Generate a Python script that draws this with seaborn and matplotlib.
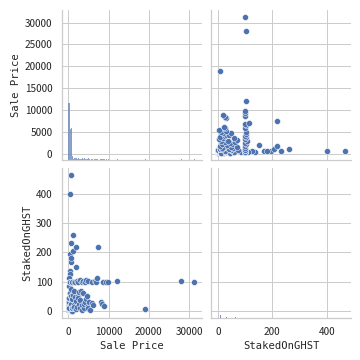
import matplotlib
matplotlib.use("Agg")
import matplotlib.pyplot as plt
import pandas as pd
import seaborn as sns

# listings; n_listings = how many rows sit on that spot
sale_price = [
    120, 380, 620, 870,
    100, 200, 300, 150, 300, 450, 400, 500, 300, 500, 550, 450, 600, 600, 650, 700,
    800, 650, 750, 900, 950, 1000, 1100, 1100, 1200, 1150,
    1300, 1500, 1500, 1400, 1600, 1700, 1800, 1800, 1900, 2000, 2100, 2200, 2300, 2400,
    2500, 2600, 2700, 2800, 2900, 3000, 3200, 3300, 3300, 3500, 3600, 3700, 3900, 4000,
    4100, 4200, 4300, 4500, 4700, 4800, 5000, 5000, 5200, 5450, 5800, 5800, 6100, 6600,
    6800, 7100, 7400, 8200, 8300, 8600, 8800, 9400, 9800, 12000, 19000, 28000, 31300,
]
staked_ghst = [
    0, 0, 0, 0,
    20, 12, 30, 45, 85, 60, 135, 125, 112, 194, 401, 100, 465, 233, 168, 180,
    75, 25, 50, 100, 10, 40, 260, 205, 55, 15,
    100, 70, 22, 15, 48, 100, 217, 8, 152, 35, 104, 15, 52, 45,
    100, 25, 65, 12, 106, 38, 70, 100, 5, 20, 60, 103, 10, 25,
    100, 32, 40, 105, 50, 18, 102, 12, 30, 4, 100, 28, 22, 104,
    100, 114, 218, 30, 25, 100, 18, 100, 99, 104, 8, 103, 100,
]
n_listings = [
    80, 80, 45, 45,
    6, 8, 6, 6, 1, 6, 1, 1, 1, 1, 1, 4, 1, 1, 1, 1,
    1, 3, 3, 3, 4, 3, 1, 1, 1, 1,
    1, 1, 1, 1, 1, 1, 1, 1, 1, 1, 1, 1, 1, 1,
    1, 1, 1, 1, 1, 1, 1, 1, 1, 1, 1, 1, 1, 1,
    1, 1, 1, 1, 1, 1, 1, 1, 1, 1, 1, 1, 1, 1,
    1, 1, 1, 1, 1, 1, 1, 1, 1, 1, 1, 1, 1,
]

TICK_FONT = ["Noto Sans CJK JP", "DejaVu Sans"]
LABEL_FONT = ["DejaVu Sans Mono"]


def diag_hist(x, **kws):
    kws.pop("label", None)
    # staked amounts pile up on exact values -> very thin bins, bars nearly vanish
    if x.name == "Sale Price":
        sns.histplot(x=x, binwidth=250, binrange=(0, 31500), ax=plt.gca(), **kws)
    else:
        sns.histplot(x=x, binwidth=0.1, ax=plt.gca(), **kws)


def main() -> None:
    sns.set_theme(style="whitegrid")
    plt.rcParams["font.family"] = TICK_FONT
    plt.rcParams["xtick.labelsize"] = 10
    plt.rcParams["ytick.labelsize"] = 10

    df = pd.DataFrame({"Sale Price": sale_price, "StakedOnGHST": staked_ghst, "n": n_listings})
    df = df.loc[df.index.repeat(df["n"])].reset_index(drop=True)

    g = sns.PairGrid(df, vars=["Sale Price", "StakedOnGHST"])
    g.map_diag(diag_hist)
    g.map_offdiag(sns.scatterplot)

    for ax in g.axes.flat:
        ax.xaxis.label.set_fontfamily(LABEL_FONT)
        ax.yaxis.label.set_fontfamily(LABEL_FONT)
        ax.xaxis.label.set_fontsize(10.5)
        ax.yaxis.label.set_fontsize(10.5)

    g.figure.subplots_adjust(left=0.172, right=0.975, top=0.972, bottom=0.117,
                             wspace=0.071, hspace=0.053)
    g.figure.savefig("out.png", dpi=72)


if __name__ == "__main__":
    main()
